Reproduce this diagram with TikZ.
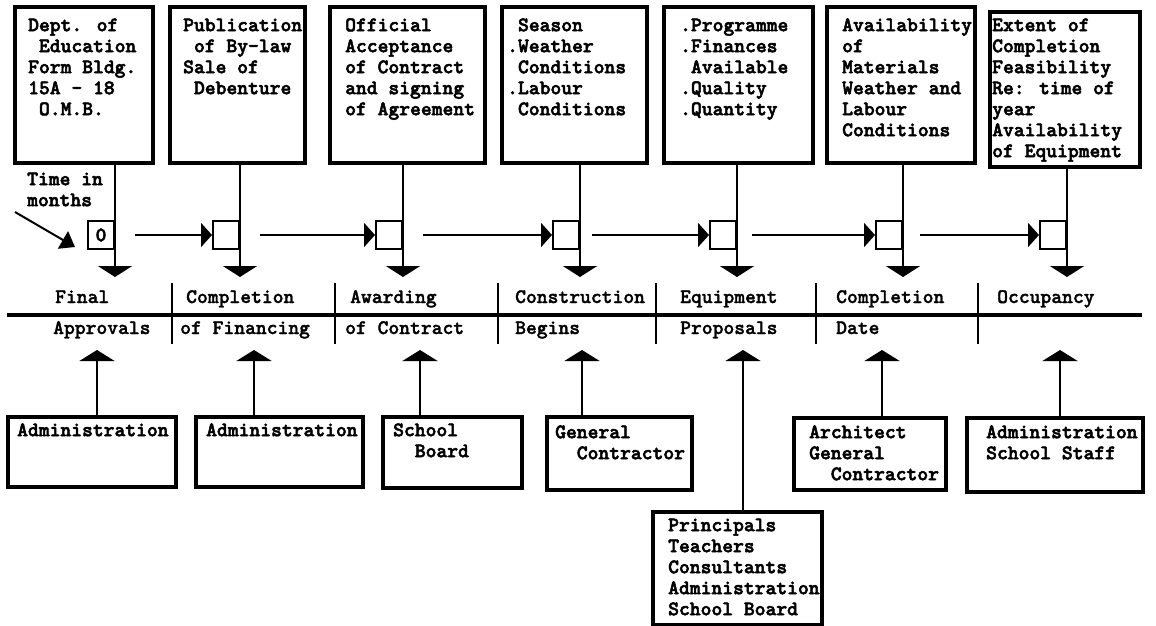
\documentclass[tikz,border=0pt]{standalone}
\usepackage{fontspec}
\newfontfamily\twfont{lmmonolt10-bold.otf}[FakeBold=2.5]
\newfontfamily\lbtwfont{lmmonolt10-bold.otf}[FakeBold=1.5]
\usetikzlibrary{arrows.meta}
\newcommand\bxfont{\fontsize{20.6}{21}\selectfont\twfont}
\newcommand\lbfont{\fontsize{20.6}{21}\selectfont\lbtwfont}
\begin{document}
\begin{tikzpicture}[x=1pt,y=-1pt,
  frame/.style={draw, line width=4.5pt, inner sep=0pt},
  txt/.style={anchor=north west, inner sep=0pt, align=left, font=\bxfont},
  lab/.style={anchor=base west, inner sep=0pt, font=\lbfont},
  sq/.style={draw, line width=2pt, minimum width=26pt, minimum height=28pt, inner sep=0pt, anchor=east, font=\bxfont},
  thinline/.style={line width=2pt},
  downarr/.style={thinline, -{Triangle[width=34pt,length=11pt]}},
  uparr/.style={thinline, -{Triangle[width=35pt,length=11pt]}},
  harr/.style={thinline, -{Triangle[width=24pt,length=11pt]}},
  sep/.style={line width=2.5pt},
]
\useasboundingbox (0,0) rectangle (1156,626);
\fill[white] (0,0) rectangle (1156,626);

% top boxes
\node (t1) [frame, minimum width=138pt, minimum height=156pt] at (84,85) {};
\node (t2) [frame, minimum width=135pt, minimum height=156pt] at (237.5,85) {};
\node (t3) [frame, minimum width=155pt, minimum height=156pt] at (407.5,85) {};
\node (t4) [frame, minimum width=145pt, minimum height=156pt] at (574.5,85) {};
\node (t5) [frame, minimum width=149pt, minimum height=156pt] at (738.5,85) {};
\node (t6) [frame, minimum width=148pt, minimum height=156pt] at (901,85) {};
\node (t7) [frame, minimum width=150pt, minimum height=155pt] at (1065,89.5) {};

\node (t1x) [txt] at (28,16.3) {\strut Dept. of\\~Education\\Form Bldg.\\15A - 18\\~O.M.B.};
\node (t2x) [txt] at (183,16.3) {\strut Publication\\~of By-law\\Sale of\\~Debenture};
\node (t3x) [txt] at (345,16.3) {\strut Official\\Acceptance\\of Contract\\and signing\\of Agreement};
\node (t4x) [txt] at (507,16.3) {\strut ~Season\\.Weather\\~Conditions\\.Labour\\~Conditions};
\node (t5x) [txt] at (680,16.3) {\strut .Programme\\.Finances\\~Available\\.Quality\\.Quantity};
\node (t6x) [txt] at (842,16.3) {\strut Availability\\of\\Materials\\Weather and\\Labour\\Conditions};
\node (t7x) [txt] at (992,16.3) {\strut Extent of\\Completion\\Feasibility\\Re: time of\\year\\Availability\\of Equipment};

% time label
\node (tim) [txt] at (27,170.3) {\strut Time in\\months};

% squares on the time line
\node (s1) [sq] at (115,235) {0};
\node (s2) [sq] at (240,235) {};
\node (s3) [sq] at (403,235) {};
\node (s4) [sq] at (580,235) {};
\node (s5) [sq] at (737,235) {};
\node (s6) [sq] at (903,235) {};
\node (s7) [sq] at (1067,235) {};

% pointer
\coordinate (p0) at (15,212);
\coordinate (p1) at (75,247);
\draw[thinline, -{Triangle[width=20pt,length=14pt]}] (p0) -- (p1);

% horizontal arrows
\draw[harr] ([xshift=20pt]s1.east) -- (s2.west);
\draw[harr] ([xshift=20pt]s2.east) -- (s3.west);
\draw[harr] ([xshift=20pt]s3.east) -- (s4.west);
\draw[harr] ([xshift=12pt]s4.east) -- (s5.west);
\draw[harr] ([xshift=15pt]s5.east) -- (s6.west);
\draw[harr] ([xshift=17pt]s6.east) -- (s7.west);

% down arrows
\foreach \i in {1,...,7} {
  \coordinate (d\i) at ([yshift=-42pt]s\i.east);
  \draw[downarr] (t\i.south -| s\i.east) -- (d\i);
}

% time line
\coordinate (L) at (7,315);
\coordinate (R) at (1142,315);
\draw[line width=4pt] (L) -- (R);
\foreach \x in {172,335,498,656,816,978} {
  \draw[sep] (\x,283) -- (\x,344);
}

% labels
\node (l1) [lab] at (55,303) {Final};
\node (l2) [lab] at (186,303) {Completion};
\node (l3) [lab] at (350,303) {Awarding};
\node (l4) [lab] at (515,303) {Construction};
\node (l5) [lab] at (680,303) {Equipment};
\node (l6) [lab] at (836,303) {Completion};
\node (l7) [lab] at (997,303) {Occupancy};
\node (m1) [lab] at (53,334) {Approvals};
\node (m2) [lab] at (180,334) {of Financing};
\node (m3) [lab] at (345,334) {of Contract};
\node (m4) [lab] at (515,334) {Begins};
\node (m5) [lab] at (680,334) {Proposals};
\node (m6) [lab] at (836,334) {Date};

% bottom boxes
\node (b1) [frame, minimum width=168pt, minimum height=70pt] at (92,452) {};
\node (b2) [frame, minimum width=167pt, minimum height=70pt] at (279.5,452) {};
\node (b3) [frame, minimum width=139pt, minimum height=71pt] at (452.5,452.5) {};
\node (b4) [frame, minimum width=145pt, minimum height=73pt] at (619.5,453.5) {};
\node (b5) [frame, minimum width=169pt, minimum height=113pt] at (737.5,568.5) {};
\node (b6) [frame, minimum width=152pt, minimum height=72pt] at (870,454) {};
\node (b7) [frame, minimum width=176pt, minimum height=74pt] at (1055,455) {};

\node (b1x) [txt] at (17,421.3) {\strut Administration};
\node (b2x) [txt] at (206,421.3) {\strut Administration};
\node (b3x) [txt] at (393,421.3) {\strut School\\~~Board};
\node (b4x) [txt] at (555,423.3) {\strut General\\~~Contractor};
\node (b5x) [txt] at (668,516.3) {\strut Principals\\Teachers\\Consultants\\Administration\\School Board};
\node (b6x) [txt] at (809,423.3) {\strut Architect\\General\\~~Contractor};
\node (b7x) [txt] at (986,423.3) {\strut Administration\\School Staff};

% up arrows
\coordinate (u1) at (97,350);
\coordinate (u2) at (254,350);
\coordinate (u3) at (420,350);
\coordinate (u4) at (582,350);
\coordinate (u5) at (743,350);
\coordinate (u6) at (882,350);
\coordinate (u7) at (1060,350);
\foreach \i in {1,...,7} {
  \draw[uparr] (b\i.north -| u\i) -- (u\i);
}
\end{tikzpicture}
\end{document}
